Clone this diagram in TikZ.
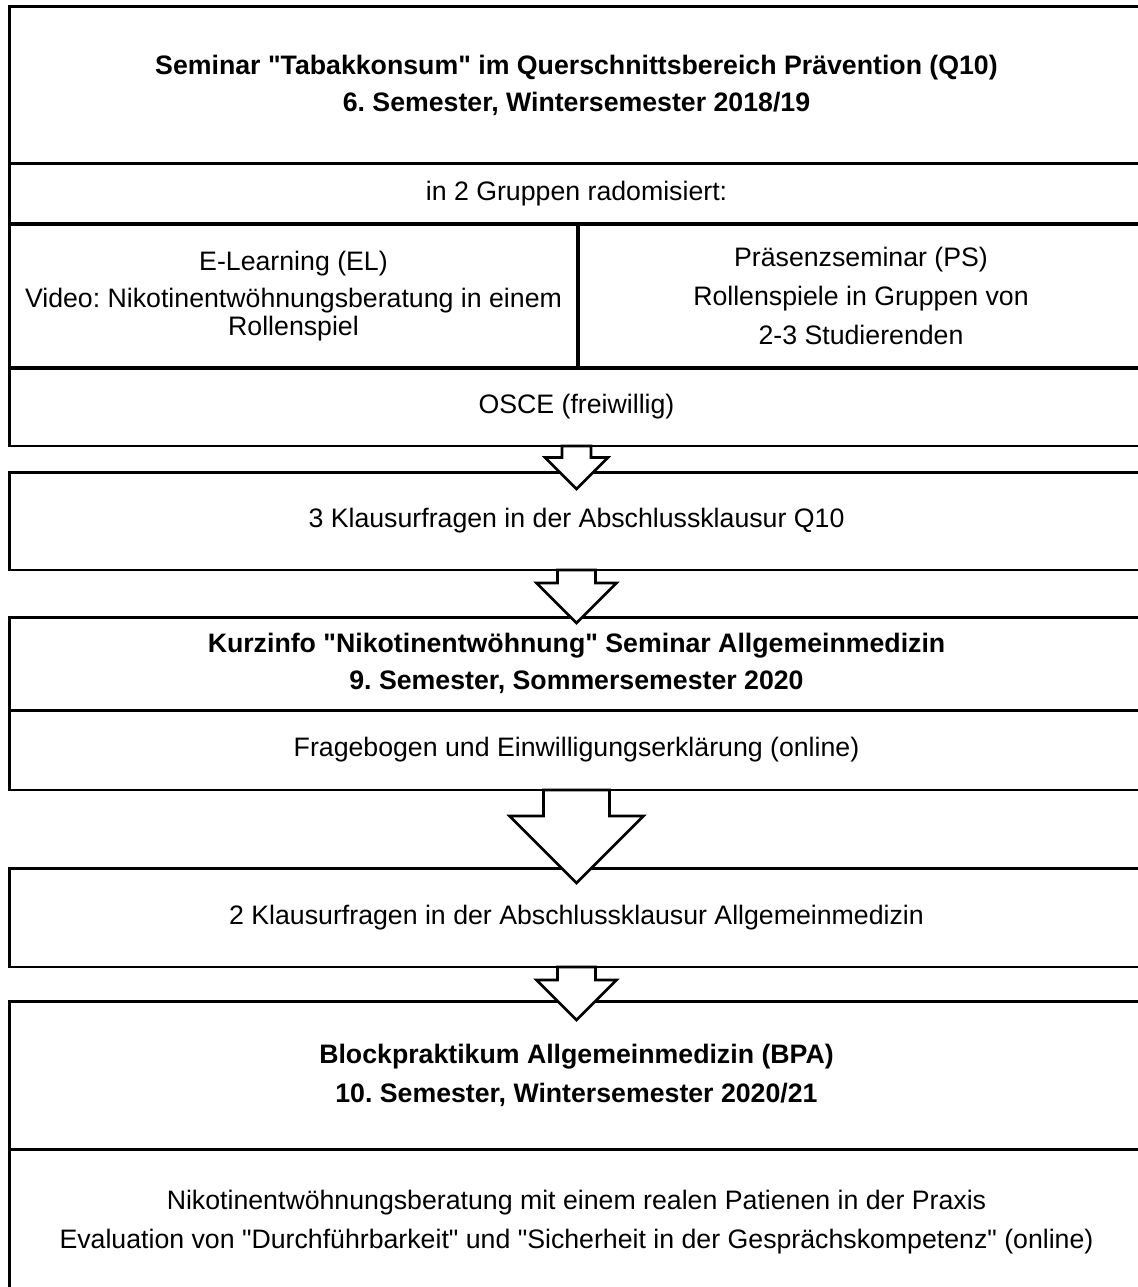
\documentclass[tikz,border=0pt]{standalone}
\usepackage{fontspec}
\setmainfont{Liberation Sans}
\usetikzlibrary{calc}
\frenchspacing

\tikzset{
  block/.style={draw, line width=1.7pt, inner sep=0pt, outer sep=0pt, align=center, minimum width=22.7cm},
  head/.style={font=\fontsize{15.2}{21}\selectfont\bfseries},
  flowarrow/.style={draw, fill=white, line width=1.5pt, line join=miter},
}
% straight double quote, kept out of the tex-text mapping
\newcommand{\qd}{\XeTeXglyph\XeTeXcharglyph"22\relax}
% #1 start node, #2 tip, #3 shaft half width, #4 head half width
\newcommand{\blockarrow}[4]{%
  \draw[flowarrow] (#2) -- ++(-#4,-#4) -- ++(#4-#3,0) |- (#1.south)
    -| ($(#2)+(#3,-#4)$) -- ++(#4-#3,0) -- cycle;}

\begin{document}
\begin{tikzpicture}[x=0.02cm, y=-0.02cm, align=center, font=\fontsize{15.2}{21}\selectfont]
  \useasboundingbox (0,0) rectangle (1137,1287);
  \path (576.5,85) node[block, head, minimum height=3.16cm](T) {Seminar \qd Tabakkonsum\qd{} im Querschnittsbereich Prävention (Q10)\\ 6. Semester, Wintersemester 2018/19}
        ++(0,109) node[block, minimum height=1.2cm](G) {in 2 Gruppen radomisiert:}
        ++(-283,102) node[block, minimum width=11.38cm, minimum height=2.88cm](EL) {E-Learning (EL)\\ Video: Nikotinentwöhnungsberatung in einem\\[-5pt] Rollenspiel}
        ++(567.5,0) node[block, minimum width=11.32cm, minimum height=2.88cm](PS) {Präsenzseminar (PS)\\[1pt] Rollenspiele in Gruppen von\\[1pt] 2-3 Studierenden}
        ++(-284.5,111) node[block, minimum height=1.56cm](O) {OSCE (freiwillig)}
        ++(0,114) node[block, minimum height=1.96cm](K1) {3 Klausurfragen in der Abschlussklausur Q10}
        ++(0,142.5) node[block, head, minimum height=1.86cm](KI) {Kurzinfo \qd Nikotinentwöhnung\qd{} Seminar Allgemeinmedizin\\ 9. Semester, Sommersemester 2020}
        ++(0,86.5) node[block, minimum height=1.6cm](F) {Fragebogen und Einwilligungserklärung (online)}
        ++(0,167.5) node[block, minimum height=1.98cm](K2) {2 Klausurfragen in der Abschlussklausur Allgemeinmedizin}
        ++(0,158) node[block, head, minimum height=2.98cm](B) {Blockpraktikum Allgemeinmedizin (BPA)\\[1pt] 10. Semester, Wintersemester 2020/21}
        ++(0,146.5) node[block, minimum height=2.9cm](P) {Nikotinentwöhnungsberatung mit einem realen Patienen in der Praxis\\[1pt] Evaluation von \qd Durchführbarkeit\qd{} und \qd Sicherheit in der Gesprächskompetenz\qd{} (online)};
  \coordinate (tip1) at (576.5,489);
  \coordinate (tip2) at (576.5,623);
  \coordinate (tip3) at (576.5,883);
  \coordinate (tip4) at (576.5,1020);
  \blockarrow{O}{tip1}{14.5}{31.5}
  \blockarrow{K1}{tip2}{19}{40}
  \blockarrow{F}{tip3}{33}{67}
  \blockarrow{K2}{tip4}{19}{40}
\end{tikzpicture}
\end{document}
